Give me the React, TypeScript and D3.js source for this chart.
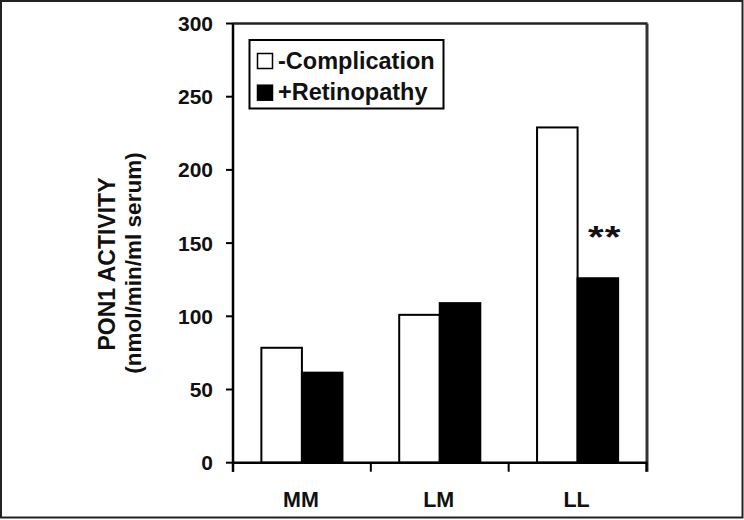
import React from "react";
import * as d3 from "d3";

const categories = ["MM", "LM", "LL"];
const seriesNames = ["-Complication", "+Retinopathy"];
const complication = [78.5, 101, 229];
const retinopathy = [61.5, 109, 126];
const yTicks = [0, 50, 100, 150, 200, 250, 300];
const significance = ["", "", "**"];

const W = 744;
const H = 520;
const FONT = "'Liberation Sans', Arial, Helvetica, sans-serif";

export default function App() {
  const left = 233;
  const right = 646.5;
  const top = 23.5;
  const bottom = 462.7;

  const y = d3.scaleLinear().domain([0, 300]).range([bottom, top]);
  const x = d3.scaleBand<string>().domain(categories).range([left, right]).padding(0);
  const xs = d3
    .scaleBand<string>()
    .domain(seriesNames)
    .range([0, x.bandwidth()])
    .paddingInner(0)
    .paddingOuter(0.7);

  const values = [complication, retinopathy];
  const fills = ["#ffffff", "#000000"];

  const boundaries = [left, ...categories.map((c) => (x(c) as number) + x.bandwidth())];

  return (
    <svg
      width={W}
      height={H}
      style={{ position: "absolute", left: 0, top: 0, background: "#fff" }}
      fontFamily={FONT}
      fontWeight="bold"
    >
      <rect x={0} y={0} width={W} height={H} fill="#fff" />
      <rect x={1} y={1} width={741.5} height={516.5} fill="none" stroke="#222" strokeWidth={2} />

      {/* bars */}
      {categories.map((c, i) =>
        seriesNames.map((s, j) => {
          const v = values[j][i];
          const bx = (x(c) as number) + (xs(s) as number);
          return (
            <rect
              key={c + s}
              x={bx}
              y={y(v)}
              width={xs.bandwidth()}
              height={y(0) - y(v)}
              fill={fills[j]}
              stroke="#000"
              strokeWidth={2}
            />
          );
        })
      )}

      {/* significance marks */}
      {categories.map((c, i) =>
        significance[i] ? (
          <text
            key={"sig" + c}
            transform={`translate(${(x(c) as number) + (xs(seriesNames[1]) as number) + xs.bandwidth() / 2 + 7},${y(retinopathy[i]) - 30}) scale(1.3,1)`}
            textAnchor="middle"
            fontSize={31}
            letterSpacing={1}
            fill="#111"
          >
            {significance[i]}
          </text>
        ) : null
      )}

      {/* frame top and right */}
      <line x1={left} x2={right + 1} y1={top} y2={top} stroke="#222" strokeWidth={2.5} />
      <line x1={right + 0.5} x2={right + 0.5} y1={top} y2={bottom + 9} stroke="#333" strokeWidth={3} />

      {/* y axis */}
      <line x1={left} x2={left} y1={top} y2={bottom + 9} stroke="#000" strokeWidth={2.5} />
      {yTicks.map((t) => (
        <g key={"yt" + t}>
          <line x1={left - 7} x2={left} y1={y(t)} y2={y(t)} stroke="#000" strokeWidth={2} />
          <text x={213} y={y(t)} dy="0.36em" textAnchor="end" fontSize={21} fill="#111">
            {t}
          </text>
        </g>
      ))}

      {/* x axis */}
      <line x1={left} x2={right + 1} y1={bottom} y2={bottom} stroke="#000" strokeWidth={2.5} />
      {boundaries.map((b, i) => (
        <line key={"xt" + i} x1={b} x2={b} y1={bottom} y2={bottom + 9} stroke="#000" strokeWidth={2} />
      ))}
      {categories.map((c) => (
        <text
          key={"xl" + c}
          x={(x(c) as number) + x.bandwidth() / 2 - 1}
          y={506.5}
          textAnchor="middle"
          fontSize={21.5}
          fill="#111"
        >
          {c}
        </text>
      ))}

      {/* y label */}
      <text
        transform={`translate(115,264) rotate(-90)`}
        textAnchor="middle"
        fontSize={23}
        fill="#111"
      >
        PON1 ACTIVITY
      </text>
      <text
        transform={`translate(141,263) rotate(-90)`}
        textAnchor="middle"
        fontSize={22.5}
        fill="#111"
      >
        (nmol/min/ml serum)
      </text>

      {/* legend */}
      <rect x={249.5} y={40} width={194} height={68.5} fill="#fff" stroke="#000" strokeWidth={2} />
      {seriesNames.map((s, j) => (
        <g key={"lg" + s}>
          <rect
            x={257.5}
            y={53.5 + j * 31.7}
            width={15}
            height={15}
            fill={fills[j]}
            stroke="#000"
            strokeWidth={1.5}
          />
          <text x={278} y={68.5 + j * 31.7} fontSize={23.5} fill="#111">
            {s}
          </text>
        </g>
      ))}
    </svg>
  );
}
